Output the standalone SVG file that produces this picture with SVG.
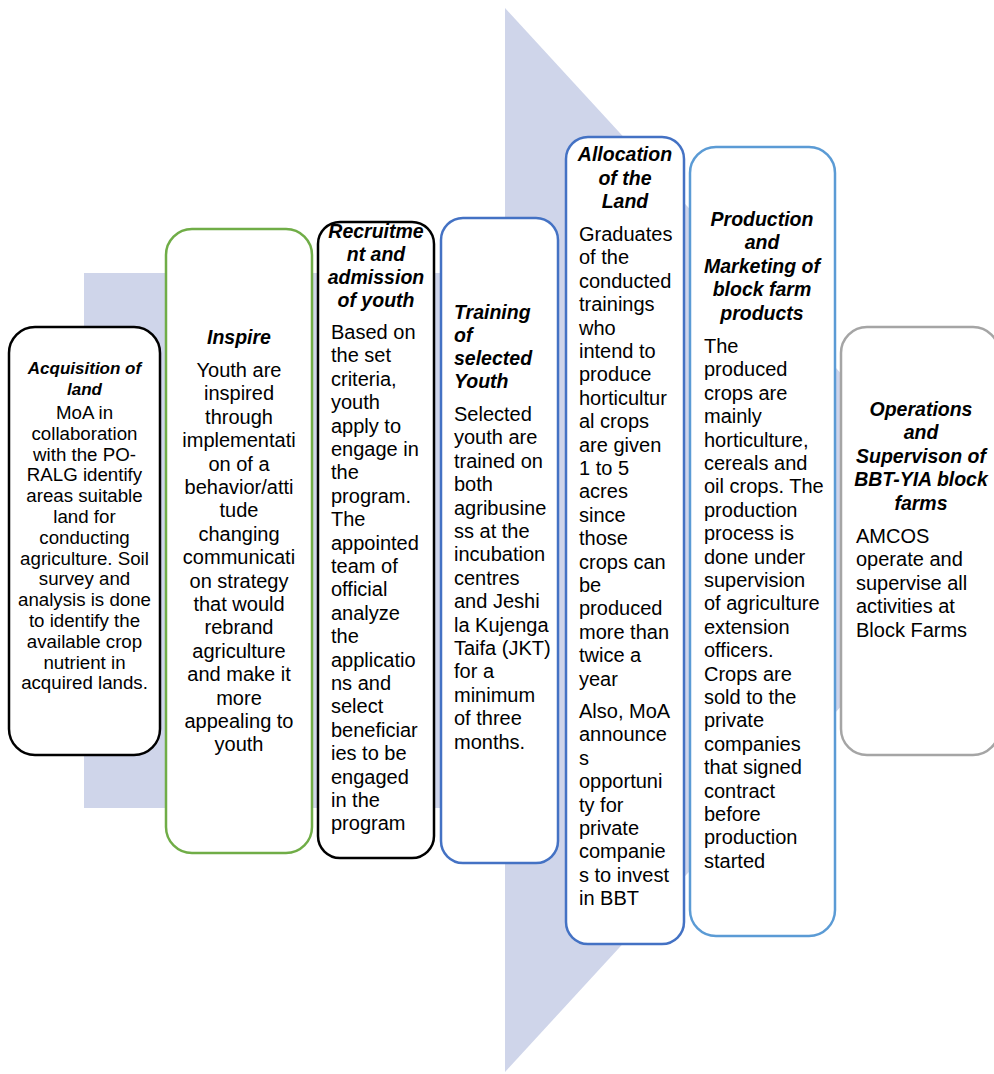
<svg xmlns="http://www.w3.org/2000/svg" width="994" height="1074" viewBox="0 0 994 1074">
<style>
.bg{fill:#cfd5ea;stroke:none}
.box{fill:#ffffff;stroke-width:2.5}
.t{font-family:"Liberation Sans",Arial,sans-serif;font-size:20px;fill:#000}
.h{font-weight:bold;font-style:italic;font-size:19.5px}
.s{font-size:18.7px}
.s2{font-size:17px}
.c{text-anchor:middle}
</style>
<g id="background">
<rect class="bg" x="84" y="273" width="422" height="535"/>
<polygon class="bg" points="505,8 994,540 505,1072"/>
</g>
<g id="connectors"/>
<g id="n1">
<rect class="box" x="9" y="327" width="151" height="428" rx="26" stroke="#000000"/>
<text class="t c h s2"><tspan x="84.5" y="374">Acquisition of</tspan><tspan x="84.5" y="395">land</tspan></text>
<text class="t s c"><tspan x="84.5" y="419">MoA in</tspan><tspan x="84.5" y="439.8">collaboration</tspan><tspan x="84.5" y="460.6">with the PO-</tspan><tspan x="84.5" y="481.4">RALG identify</tspan><tspan x="84.5" y="502.2">areas suitable</tspan><tspan x="84.5" y="523">land for</tspan><tspan x="84.5" y="543.8">conducting</tspan><tspan x="84.5" y="564.6">agriculture. Soil</tspan><tspan x="84.5" y="585.4">survey and</tspan><tspan x="84.5" y="606.2">analysis is done</tspan><tspan x="84.5" y="627">to identify the</tspan><tspan x="84.5" y="647.8">available crop</tspan><tspan x="84.5" y="668.6">nutrient in</tspan><tspan x="84.5" y="689.4">acquired lands.</tspan></text>
</g>
<g id="n2">
<rect class="box" x="166" y="229" width="146" height="624" rx="26" stroke="#70ad47"/>
<text class="t c h"><tspan x="239" y="344">Inspire</tspan></text>
<text class="t c"><tspan x="239" y="377">Youth are</tspan><tspan x="239" y="400.4">inspired</tspan><tspan x="239" y="423.8">through</tspan><tspan x="239" y="447.2">implementati</tspan><tspan x="239" y="470.6">on of a</tspan><tspan x="239" y="494">behavior/atti</tspan><tspan x="239" y="517.4">tude</tspan><tspan x="239" y="540.8">changing</tspan><tspan x="239" y="564.2">communicati</tspan><tspan x="239" y="587.6">on strategy</tspan><tspan x="239" y="611">that would</tspan><tspan x="239" y="634.4">rebrand</tspan><tspan x="239" y="657.8">agriculture</tspan><tspan x="239" y="681.2">and make it</tspan><tspan x="239" y="704.6">more</tspan><tspan x="239" y="728">appealing to</tspan><tspan x="239" y="751.4">youth</tspan></text>
</g>
<g id="n3">
<rect class="box" x="318" y="222" width="116" height="636" rx="22" stroke="#000000"/>
<text class="t c h"><tspan x="376" y="238">Recruitme</tspan><tspan x="376" y="261">nt and</tspan><tspan x="376" y="284">admission</tspan><tspan x="376" y="307">of youth</tspan></text>
<text class="t"><tspan x="331" y="339">Based on</tspan><tspan x="331" y="362.4">the set</tspan><tspan x="331" y="385.8">criteria,</tspan><tspan x="331" y="409.2">youth</tspan><tspan x="331" y="432.6">apply to</tspan><tspan x="331" y="456">engage in</tspan><tspan x="331" y="479.4">the</tspan><tspan x="331" y="502.8">program.</tspan><tspan x="331" y="526.2">The</tspan><tspan x="331" y="549.6">appointed</tspan><tspan x="331" y="573">team of</tspan><tspan x="331" y="596.4">official</tspan><tspan x="331" y="619.8">analyze</tspan><tspan x="331" y="643.2">the</tspan><tspan x="331" y="666.6">applicatio</tspan><tspan x="331" y="690">ns and</tspan><tspan x="331" y="713.4">select</tspan><tspan x="331" y="736.8">beneficiar</tspan><tspan x="331" y="760.2">ies to be</tspan><tspan x="331" y="783.6">engaged</tspan><tspan x="331" y="807">in the</tspan><tspan x="331" y="830.4">program</tspan></text>
</g>
<g id="n4">
<rect class="box" x="441" y="218" width="117" height="645" rx="22" stroke="#4472c4"/>
<text class="t h"><tspan x="454" y="319">Training</tspan><tspan x="454" y="342">of</tspan><tspan x="454" y="365">selected</tspan><tspan x="454" y="388">Youth</tspan></text>
<text class="t"><tspan x="454" y="421">Selected</tspan><tspan x="454" y="444.4">youth are</tspan><tspan x="454" y="467.8">trained on</tspan><tspan x="454" y="491.2">both</tspan><tspan x="454" y="514.6">agribusine</tspan><tspan x="454" y="538">ss at the</tspan><tspan x="454" y="561.4">incubation</tspan><tspan x="454" y="584.8">centres</tspan><tspan x="454" y="608.2">and Jeshi</tspan><tspan x="454" y="631.6">la Kujenga</tspan><tspan x="454" y="655">Taifa (JKT)</tspan><tspan x="454" y="678.4">for a</tspan><tspan x="454" y="701.8">minimum</tspan><tspan x="454" y="725.2">of three</tspan><tspan x="454" y="748.6">months.</tspan></text>
</g>
<g id="n5">
<rect class="box" x="566" y="137" width="118" height="807" rx="22" stroke="#4472c4"/>
<text class="t c h"><tspan x="625" y="161">Allocation</tspan><tspan x="625" y="185">of the</tspan><tspan x="625" y="208">Land</tspan></text>
<text class="t"><tspan x="579" y="241">Graduates</tspan><tspan x="579" y="264.4">of the</tspan><tspan x="579" y="287.8">conducted</tspan><tspan x="579" y="311.2">trainings</tspan><tspan x="579" y="334.6">who</tspan><tspan x="579" y="358">intend to</tspan><tspan x="579" y="381.4">produce</tspan><tspan x="579" y="404.8">horticultur</tspan><tspan x="579" y="428.2">al crops</tspan><tspan x="579" y="451.6">are given</tspan><tspan x="579" y="475">1 to 5</tspan><tspan x="579" y="498.4">acres</tspan><tspan x="579" y="521.8">since</tspan><tspan x="579" y="545.2">those</tspan><tspan x="579" y="568.6">crops can</tspan><tspan x="579" y="592">be</tspan><tspan x="579" y="615.4">produced</tspan><tspan x="579" y="638.8">more than</tspan><tspan x="579" y="662.2">twice a</tspan><tspan x="579" y="685.6">year</tspan><tspan x="579" y="718">Also, MoA</tspan><tspan x="579" y="741.4">announce</tspan><tspan x="579" y="764.8">s</tspan><tspan x="579" y="788.2">opportuni</tspan><tspan x="579" y="811.6">ty for</tspan><tspan x="579" y="835">private</tspan><tspan x="579" y="858.4">companie</tspan><tspan x="579" y="881.8">s to invest</tspan><tspan x="579" y="905.2">in BBT</tspan></text>
</g>
<g id="n6">
<rect class="box" x="690" y="147" width="145" height="789" rx="26" stroke="#5b9bd5"/>
<text class="t c h"><tspan x="762" y="226">Production</tspan><tspan x="762" y="249.4">and</tspan><tspan x="762" y="272.8">Marketing of</tspan><tspan x="762" y="296.2">block farm</tspan><tspan x="762" y="319.6">products</tspan></text>
<text class="t"><tspan x="704" y="353">The</tspan><tspan x="704" y="376.4">produced</tspan><tspan x="704" y="399.8">crops are</tspan><tspan x="704" y="423.2">mainly</tspan><tspan x="704" y="446.6">horticulture,</tspan><tspan x="704" y="470">cereals and</tspan><tspan x="704" y="493.4">oil crops. The</tspan><tspan x="704" y="516.8">production</tspan><tspan x="704" y="540.2">process is</tspan><tspan x="704" y="563.6">done under</tspan><tspan x="704" y="587">supervision</tspan><tspan x="704" y="610.4">of agriculture</tspan><tspan x="704" y="633.8">extension</tspan><tspan x="704" y="657.2">officers.</tspan><tspan x="704" y="680.6">Crops are</tspan><tspan x="704" y="704">sold to the</tspan><tspan x="704" y="727.4">private</tspan><tspan x="704" y="750.8">companies</tspan><tspan x="704" y="774.2">that signed</tspan><tspan x="704" y="797.6">contract</tspan><tspan x="704" y="821">before</tspan><tspan x="704" y="844.4">production</tspan><tspan x="704" y="867.8">started</tspan></text>
</g>
<g id="n7">
<rect class="box" x="841" y="327" width="158" height="428" rx="26" stroke="#a5a5a5"/>
<text class="t c h"><tspan x="921" y="416">Operations</tspan><tspan x="921" y="439.4">and</tspan><tspan x="921" y="462.8">Supervison of</tspan><tspan x="921" y="486.2">BBT-YIA block</tspan><tspan x="921" y="509.6">farms</tspan></text>
<text class="t"><tspan x="856" y="543">AMCOS</tspan><tspan x="856" y="566.4">operate and</tspan><tspan x="856" y="589.8">supervise all</tspan><tspan x="856" y="613.2">activities at</tspan><tspan x="856" y="636.6">Block Farms</tspan></text>
</g>
</svg>
